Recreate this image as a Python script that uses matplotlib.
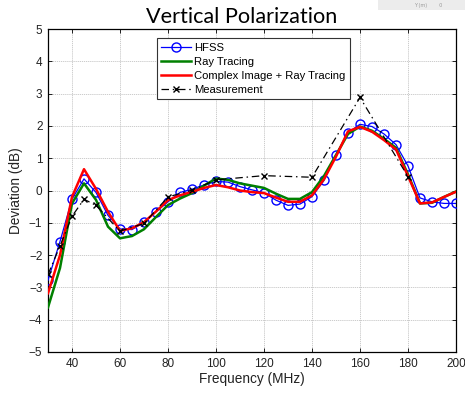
import matplotlib
matplotlib.use("Agg")
import matplotlib.pyplot as plt
from matplotlib.patches import Rectangle

# ---- data ----
hfss_freq = [30, 35, 40, 45, 50, 55, 60, 65, 70, 75, 80, 85, 90, 95, 100, 105, 110, 115,
             120, 125, 130, 135, 140, 145, 150, 155, 160, 165, 170, 175, 180, 185, 190, 195, 200]
hfss_dev = [-2.78, -1.58, -0.27, 0.36, -0.06, -0.77, -1.19, -1.21, -0.98, -0.66, -0.35, -0.06,
            0.04, 0.17, 0.28, 0.26, 0.12, 0.02, -0.07, -0.30, -0.46, -0.42, -0.19, 0.31, 1.10,
            1.79, 2.05, 1.98, 1.75, 1.42, 0.76, -0.23, -0.35, -0.40, -0.40]

rt_freq = hfss_freq
rt_dev = [-3.62, -2.40, -0.40, 0.22, -0.29, -1.12, -1.48, -1.41, -1.20, -0.82, -0.45, -0.25,
          -0.08, 0.15, 0.37, 0.33, 0.22, 0.15, 0.08, -0.10, -0.26, -0.26, -0.05, 0.45, 1.10,
          1.75, 1.98, 1.85, 1.60, 1.32, 0.50, -0.40, -0.38, -0.20, -0.03]

ci_freq = hfss_freq
ci_dev = [-3.18, -2.00, -0.20, 0.66, 0.05, -0.66, -1.25, -1.17, -0.98, -0.65, -0.30, -0.15,
          -0.04, 0.08, 0.17, 0.10, 0.00, -0.05, -0.08, -0.22, -0.35, -0.35, -0.15, 0.35, 1.05,
          1.83, 1.97, 1.82, 1.56, 1.27, 0.45, -0.40, -0.37, -0.20, -0.04]

meas_freq = [30, 35, 40, 45, 50, 60, 70, 80, 90, 100, 120, 140, 160, 180]
meas_dev = [-2.60, -1.72, -0.80, -0.27, -0.46, -1.26, -1.02, -0.20, 0.01, 0.33, 0.46, 0.41, 2.88, 0.43]

x_ticks = [40, 60, 80, 100, 120, 140, 160, 180, 200]
y_ticks = [-5, -4, -3, -2, -1, 0, 1, 2, 3, 4, 5]

# ---- figure ----
fig = plt.figure(figsize=(4.65, 3.94), dpi=100)
ax = fig.add_axes([48/465, 1-352/394, 408/465, 323/394])

tick_font = "Liberation Sans"

ax.plot(hfss_freq, hfss_dev, '-o', color='#0000ff', lw=0.9, ms=6.5, mfc='none', mew=1.0,
        label='HFSS', zorder=3)
ax.plot(rt_freq, rt_dev, '-', color='#008000', lw=1.8, label='Ray Tracing', zorder=4)
ax.plot(ci_freq, ci_dev, '-', color='#ff0000', lw=1.8, label='Complex Image + Ray Tracing', zorder=5)
ax.plot(meas_freq, meas_dev, color='black', lw=0.9, ls=(0, (6, 3, 1.2, 3)), marker='x', ms=5,
        mew=1.0, label='Measurement', zorder=6)

ax.set_xlim(30, 200)
ax.set_ylim(-5, 5)
ax.set_xticks(x_ticks)
ax.set_yticks(y_ticks)
ax.grid(True, color='#c4c4c4', ls=(0, (1.5, 1)), lw=0.6)
ax.tick_params(direction='in', top=True, right=True, length=3, width=0.6, labelsize=8.5,
               pad=4, colors='black')
for lab in ax.get_xticklabels() + ax.get_yticklabels():
    lab.set_fontfamily(tick_font)
    lab.set_color('#222222')
for sp in ax.spines.values():
    sp.set_linewidth(0.9)
    sp.set_color('black')

ax.set_xlabel('Frequency (MHz)', fontsize=9.8, fontfamily=tick_font, labelpad=2, color='#222222')
ax.set_ylabel('Deviation (dB)', fontsize=9.8, fontfamily=tick_font, labelpad=4, color='#222222')

fig.text(242/465, 1-17/394, 'Vertical Polarization', fontsize=15.6, fontfamily='Lato',
         ha='center', va='center', color='black')

leg = ax.legend(loc='upper left', bbox_to_anchor=(0.267, 0.972), borderaxespad=0,
                handlelength=2.6, labelspacing=0.36, handletextpad=0.3,
                borderpad=0.4, fancybox=False, framealpha=1, edgecolor='#333333',
                prop={'family': tick_font, 'size': 8.1})
leg.get_frame().set_linewidth(0.8)

# faint watermark box at top right
fig.patches.append(Rectangle((378/465, 1-10/394), 87/465, 10/394, transform=fig.transFigure,
                             facecolor='#ececec', edgecolor='none', zorder=0))
fig.text(428/465, 1-5/394, 'Y (m)        0', fontsize=3.5, color='#999999', ha='center', va='center')

fig.savefig('out.png', dpi=100)
